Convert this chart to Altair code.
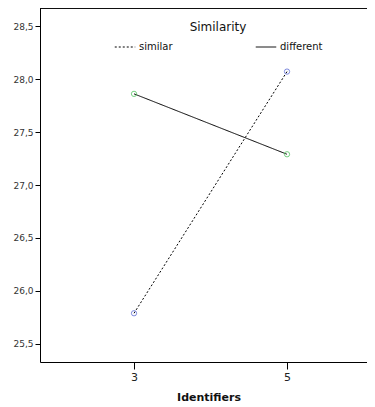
import altair as alt
import pandas as pd

identifiers = [3, 5]
groups = ["similar", "different"]
similar_vals = [25.79, 28.07]
different_vals = [27.86, 27.29]
y_ticks = [25.5, 26.0, 26.5, 27.0, 27.5, 28.0, 28.5]
point_colors = {"similar": "#4a5bd0", "different": "#3fbf4f"}

rows = []
for g, vals in zip(groups, [similar_vals, different_vals]):
    for x, v in zip(identifiers, vals):
        rows.append({"Identifiers": x, "Mean": v, "Similarity": g})
df = pd.DataFrame(rows)

W, H = 337, 354
FONT = "DejaVu Sans"

xscale = alt.Scale(domain=[1.771, 1.771 + W / 76.5], nice=False, zero=False)
yscale = alt.Scale(domain=[25.33, 28.67], nice=False, zero=False)

x_enc = alt.X("Identifiers:Q", scale=xscale,
              axis=alt.Axis(values=identifiers, title="Identifiers", grid=False, format="d",
                            labelFontSize=11, titleFontSize=11, titleFontWeight="bold",
                            tickSize=7, labelPadding=2, titlePadding=9,
                            domainColor="black", tickColor="black",
                            labelColor="#222", titleColor="#111"))
y_enc = alt.Y("Mean:Q", scale=yscale,
              axis=alt.Axis(values=y_ticks, title=None, grid=False,
                            labelExpr="replace(format(datum.value, '.1f'), '.', ',')",
                            labelFontSize=9, tickSize=5, labelPadding=2,
                            domainColor="black", tickColor="black", labelColor="#333"))

lines = alt.Chart(df).mark_line(color="black", strokeWidth=1).encode(
    x=x_enc,
    y=y_enc,
    strokeDash=alt.StrokeDash(
        "Similarity:N",
        scale=alt.Scale(domain=groups, range=[[2, 2], [1, 0]]),
        legend=alt.Legend(
            title="Similarity", orient="none", legendX=74, legendY=14,
            direction="horizontal", symbolType="stroke", symbolSize=420,
            symbolStrokeColor="black", symbolStrokeWidth=1,
            titleAnchor="middle", titleFontSize=12, titleFontWeight="normal",
            titleColor="#111", labelFontSize=10, labelColor="#111",
            columnPadding=80, titlePadding=2, labelOffset=3,
        ),
    ),
)

point_layers = []
for g in groups:
    point_layers.append(
        alt.Chart(df).transform_filter(alt.datum.Similarity == g)
        .mark_point(shape="circle", filled=False, size=28, strokeWidth=1, color=point_colors[g])
        .encode(x="Identifiers:Q", y="Mean:Q")
    )

top_border = alt.Chart(df).mark_rule(color="black", strokeWidth=1).encode(
    x=alt.value(0), x2=alt.value(W), y=alt.value(0)
)

chart = (
    alt.layer(lines, *point_layers, top_border)
    .properties(
        width=W, height=H,
        autosize=alt.AutoSizeParams(type="none"),
        padding={"left": 32, "top": 0, "right": -10, "bottom": 42},
        view=alt.ViewBackground(stroke="transparent", strokeWidth=0, strokeOpacity=0),
    )
    .configure(font=FONT)
    .configure_view(strokeWidth=0, stroke="transparent")
    .configure_axis(labelFont=FONT, titleFont=FONT)
)

chart.save("out.html", embed_options={"renderer": "svg", "actions": False})
